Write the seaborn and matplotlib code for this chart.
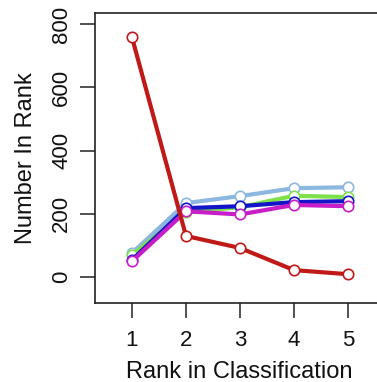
import matplotlib
matplotlib.use("Agg")
import matplotlib.pyplot as plt
import seaborn as sns
import pandas as pd

sns.set_style("white")
plt.rcParams['font.family'] = ['Liberation Sans', 'DejaVu Sans']

ranks = [1, 2, 3, 4, 5]
light_blue = [76, 234, 256, 281, 284]
green = [70, 205, 221, 257, 253]
dark_blue = [54, 218, 224, 237, 240]
purple = [50, 208, 198, 228, 224]
red = [758, 130, 92, 22, 9]

series = [
    ("light_blue", light_blue, "#8cb8e0"),
    ("green", green, "#7ee04a"),
    ("dark_blue", dark_blue, "#1414c8"),
    ("purple", purple, "#c81ec8"),
    ("red", red, "#c01a18"),
]

fig = plt.figure(figsize=(3.77, 3.82), dpi=100)
W, H = 377, 382
left_px, top_px, bot_px = 95, 13, 303
xmin, xmax = 0.315, 5.685
px_per_x = 54.0
ax = fig.add_axes([left_px / W, (H - bot_px) / H,
                   (xmax - xmin) * px_per_x / W, (bot_px - top_px) / H])

for i, (name, vals, col) in enumerate(series):
    df = pd.DataFrame({"rank": ranks, "n": vals})
    sns.lineplot(data=df, x="rank", y="n", ax=ax, color=col, lw=3.0,
                 marker="o", markersize=7.5, markerfacecolor="white",
                 markeredgecolor=col, markeredgewidth=1.2, zorder=2 + i)

ax.set_xlim(xmin, xmax)
ax.set_ylim(-82, 835)
ax.set_xticks(ranks)
ax.set_xticklabels([str(r) for r in ranks])
yt = [0, 200, 400, 600, 800]
ax.set_yticks(yt)
ax.set_yticklabels([str(v) for v in yt], rotation=90, va="center")

for s in ax.spines.values():
    s.set_visible(True)
    s.set_color("#222222")
    s.set_linewidth(1.2)

ax.tick_params(axis="both", which="major", direction="out", length=10.5,
               width=1.1, color="#222222", labelsize=16, labelcolor="#111111",
               left=True, bottom=True)
ax.tick_params(axis="x", pad=9)
ax.tick_params(axis="y", pad=6)

ax.set_xlabel("Rank in Classification", fontsize=17, color="#111111")
ax.set_ylabel("Number In Rank", fontsize=17, color="#111111")
ax.xaxis.set_label_coords((239 - left_px) / ((xmax - xmin) * px_per_x), -0.2)
ax.yaxis.set_label_coords(-0.20, 0.5)

fig.savefig("out.png", dpi=100)
